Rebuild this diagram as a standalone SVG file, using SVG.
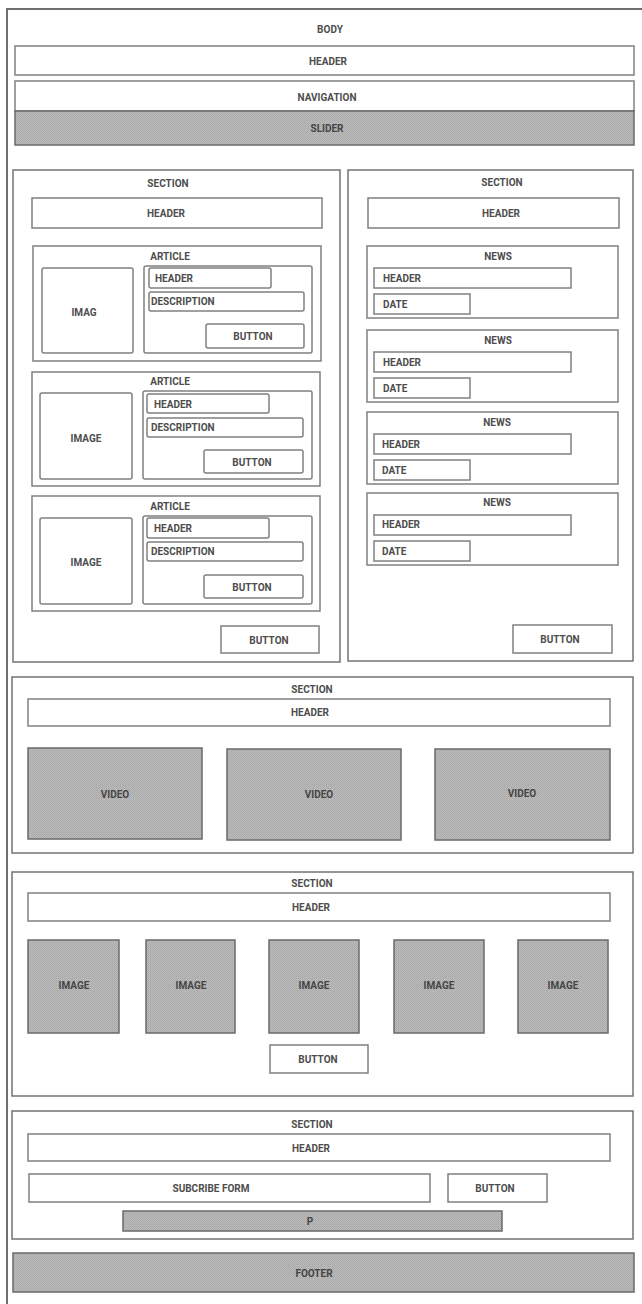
<svg xmlns="http://www.w3.org/2000/svg" width="642" height="1304" viewBox="0 0 642 1304">
<defs>
<pattern id="hatch" width="2" height="2" patternUnits="userSpaceOnUse">
<rect width="2" height="2" fill="#bcbcbc"/>
<rect width="1" height="1" fill="#a6a6a6"/>
<rect x="1" y="1" width="1" height="1" fill="#acacac"/>
</pattern>
</defs>
<style>
.box{fill:#fff;stroke:#808080;stroke-width:1.5}
.sec{fill:#fff;stroke:#737373;stroke-width:1.5}
.in{fill:#fff;stroke:#808080;stroke-width:1.5;rx:2}
.gray{fill:url(#hatch);stroke:#6a6a6a;stroke-width:1.5}
text{font-family:Roboto,"Liberation Sans",sans-serif;font-weight:700;font-size:10px;fill:#4d4d4d;dominant-baseline:central}
.c{text-anchor:middle}
.d{fill:#454545}
</style>
<rect x="0" y="0" width="642" height="1304" fill="#fff"/>
<g id="body">
<path d="M7 1304 V9 H642" fill="none" stroke="#6e6e6e" stroke-width="2"/>
<text class="c" x="330" y="29">BODY</text>
</g>
<g id="top-header"><rect class="box" x="15" y="46" width="619" height="29"/><text class="c" x="328" y="61">HEADER</text></g>
<g id="navigation"><rect class="box" x="15" y="81" width="619" height="30"/><text class="c" x="327" y="97">NAVIGATION</text></g>
<g id="slider"><rect class="gray" x="15" y="111" width="619" height="34"/><text class="c d" x="327" y="128">SLIDER</text></g>

<g id="section-articles">
<rect class="sec" x="13" y="170" width="327" height="492"/>
<text class="c" x="168" y="183">SECTION</text>
<rect class="box" x="32" y="198" width="290" height="30"/>
<text class="c" x="166" y="213">HEADER</text>
</g>
<g id="article-1">
<rect class="box" x="33" y="246" width="288" height="115"/>
<text class="c" x="170" y="256">ARTICLE</text>
<rect class="in" x="42" y="268" width="91" height="85"/>
<text class="c" x="84" y="312">IMAG</text>
<rect class="in" x="144" y="266" width="168" height="87"/>
<rect class="in" x="149" y="268" width="122" height="20"/>
<text x="155" y="278">HEADER</text>
<rect class="in" x="149" y="292" width="155" height="19"/>
<text x="151" y="301">DESCRIPTION</text>
<rect class="in" x="206" y="324" width="98" height="24"/>
<text class="c" x="253" y="336">BUTTON</text>
</g>
<g id="article-2">
<rect class="box" x="32" y="372" width="288" height="114"/>
<text class="c" x="170" y="381">ARTICLE</text>
<rect class="in" x="40" y="393" width="92" height="86"/>
<text class="c" x="86" y="438">IMAGE</text>
<rect class="in" x="143" y="391" width="169" height="88"/>
<rect class="in" x="147" y="394" width="122" height="19"/>
<text x="154" y="404">HEADER</text>
<rect class="in" x="147" y="418" width="156" height="19"/>
<text x="151" y="427">DESCRIPTION</text>
<rect class="in" x="204" y="450" width="99" height="23"/>
<text class="c" x="252" y="462">BUTTON</text>
</g>
<g id="article-3">
<rect class="box" x="32" y="496" width="288" height="115"/>
<text class="c" x="170" y="506">ARTICLE</text>
<rect class="in" x="40" y="518" width="92" height="86"/>
<text class="c" x="86" y="562">IMAGE</text>
<rect class="in" x="143" y="516" width="169" height="88"/>
<rect class="in" x="147" y="518" width="122" height="20"/>
<text x="154" y="528">HEADER</text>
<rect class="in" x="147" y="542" width="156" height="19"/>
<text x="151" y="551">DESCRIPTION</text>
<rect class="in" x="204" y="575" width="99" height="23"/>
<text class="c" x="252" y="587">BUTTON</text>
</g>
<g id="articles-button"><rect class="box" x="221" y="626" width="98" height="27"/><text class="c" x="269" y="640">BUTTON</text></g>

<g id="section-news">
<rect class="sec" x="348" y="170" width="285" height="491"/>
<text class="c" x="502" y="182">SECTION</text>
<rect class="box" x="368" y="198" width="251" height="30"/>
<text class="c" x="501" y="213">HEADER</text>
</g>
<g id="news-1">
<rect class="box" x="367" y="246" width="251" height="72"/>
<text class="c" x="498" y="256">NEWS</text>
<rect class="box" x="374" y="268" width="197" height="20"/><text x="383" y="278">HEADER</text>
<rect class="box" x="374" y="294" width="96" height="20"/><text x="383" y="304">DATE</text>
</g>
<g id="news-2">
<rect class="box" x="367" y="330" width="251" height="72"/>
<text class="c" x="498" y="340">NEWS</text>
<rect class="box" x="374" y="352" width="197" height="20"/><text x="383" y="362">HEADER</text>
<rect class="box" x="374" y="378" width="96" height="20"/><text x="383" y="388">DATE</text>
</g>
<g id="news-3">
<rect class="box" x="367" y="412" width="251" height="72"/>
<text class="c" x="497" y="422">NEWS</text>
<rect class="box" x="374" y="434" width="197" height="20"/><text x="382" y="444">HEADER</text>
<rect class="box" x="374" y="460" width="96" height="20"/><text x="382" y="470">DATE</text>
</g>
<g id="news-4">
<rect class="box" x="367" y="493" width="251" height="72"/>
<text class="c" x="497" y="502">NEWS</text>
<rect class="box" x="374" y="515" width="197" height="20"/><text x="382" y="524">HEADER</text>
<rect class="box" x="374" y="541" width="96" height="20"/><text x="382" y="551">DATE</text>
</g>
<g id="news-button"><rect class="box" x="513" y="625" width="99" height="28"/><text class="c" x="560" y="639">BUTTON</text></g>

<g id="section-videos">
<rect class="sec" x="12" y="677" width="621" height="176"/>
<text class="c" x="312" y="689">SECTION</text>
<rect class="box" x="28" y="699" width="582" height="27"/>
<text class="c" x="310" y="712">HEADER</text>
</g>
<g id="video-1"><rect class="gray" x="28" y="748" width="174" height="91"/><text class="c d" x="115" y="794">VIDEO</text></g>
<g id="video-2"><rect class="gray" x="227" y="749" width="174" height="91"/><text class="c d" x="319" y="794">VIDEO</text></g>
<g id="video-3"><rect class="gray" x="435" y="749" width="175" height="91"/><text class="c d" x="522" y="793">VIDEO</text></g>

<g id="section-images">
<rect class="sec" x="12" y="872" width="621" height="224"/>
<text class="c" x="312" y="883">SECTION</text>
<rect class="box" x="28" y="893" width="582" height="28"/>
<text class="c" x="311" y="907">HEADER</text>
</g>
<g id="image-1"><rect class="gray" x="28" y="940" width="91" height="93"/><text class="c d" x="74" y="985">IMAGE</text></g>
<g id="image-2"><rect class="gray" x="146" y="940" width="89" height="93"/><text class="c d" x="191" y="985">IMAGE</text></g>
<g id="image-3"><rect class="gray" x="269" y="940" width="90" height="93"/><text class="c d" x="314" y="985">IMAGE</text></g>
<g id="image-4"><rect class="gray" x="394" y="940" width="90" height="93"/><text class="c d" x="439" y="985">IMAGE</text></g>
<g id="image-5"><rect class="gray" x="518" y="940" width="90" height="93"/><text class="c d" x="563" y="985">IMAGE</text></g>
<g id="images-button"><rect class="box" x="270" y="1045" width="98" height="28"/><text class="c" x="318" y="1059">BUTTON</text></g>

<g id="section-subscribe">
<rect class="sec" x="12" y="1111" width="621" height="128"/>
<text class="c" x="312" y="1124">SECTION</text>
<rect class="box" x="28" y="1134" width="582" height="27"/>
<text class="c" x="311" y="1148">HEADER</text>
</g>
<g id="subscribe-form"><rect class="box" x="29" y="1174" width="401" height="28"/><text class="c" x="211" y="1188">SUBCRIBE FORM</text></g>
<g id="subscribe-button"><rect class="box" x="448" y="1174" width="99" height="28"/><text class="c" x="495" y="1188">BUTTON</text></g>
<g id="p"><rect class="gray" x="123" y="1211" width="379" height="20"/><text class="c d" x="310" y="1221">P</text></g>

<g id="footer"><rect class="gray" x="13" y="1253" width="621" height="39"/><text class="c d" x="314" y="1273">FOOTER</text></g>
<g id="connectors"/>
</svg>
